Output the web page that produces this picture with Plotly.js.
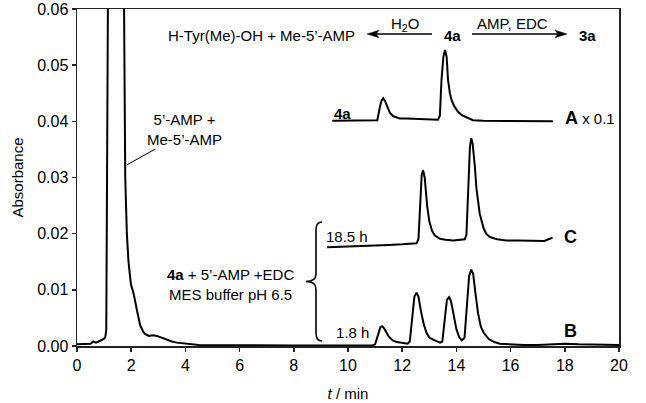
<!DOCTYPE html>
<html><head><meta charset="utf-8">
<script src="https://cdn.plot.ly/plotly-3.0.1.min.js"></script>
<style>html,body{margin:0;padding:0;background:#fff}</style>
</head><body><div id="chart" style="width:646px;height:403px"></div>
<script>
// Trace B (1.8 h), full run
const tB = [0,0.3,0.5,0.6,0.7,0.8,0.9,1.0,1.05,1.08,
  1.14,1.2,1.45,1.65,1.72,1.78,1.84,1.9,1.99,2.09,
  2.21,2.33,2.45,2.52,2.65,2.8,2.95,3.1,3.32,3.5,
  3.68,4.17,4.5,5,6,7,8,9,10,10.9,
  11.0,11.1,11.2,11.27,11.35,11.5,11.65,11.8,12.0,12.2,
  12.28,12.35,12.45,12.53,12.6,12.7,12.8,12.9,13.0,13.2,
  13.4,13.48,13.55,13.65,13.73,13.8,13.9,14.0,14.1,14.2,
  14.3,14.38,14.47,14.55,14.62,14.7,14.8,14.9,15.0,15.2,
  15.4,15.6,16.0,16.5,17,17.5,18,18.5,19,19.5,
  20];
const absB = [0.0003,0.0003,0.0004,0.0008,0.0006,0.0008,0.0011,0.0013,0.0017,0.003,
  0.06,0.12,0.2,0.12,0.06,0.03,0.02,0.015,0.011,0.0093,
  0.0064,0.0037,0.0025,0.0021,0.0018,0.0019,0.0018,0.0015,0.0011,0.0008,
  0.0006,0.0003,0.0002,0.00015,0.0001,0.0001,0.0001,0.0001,0.0001,0.0001,
  0.0003,0.0020,0.0034,0.0035,0.0030,0.0017,0.0010,0.0007,0.0005,0.0004,
  0.0008,0.0040,0.0088,0.0095,0.0088,0.0060,0.0038,0.0023,0.0015,0.0010,
  0.0006,0.0008,0.0040,0.0082,0.0087,0.0080,0.0055,0.0030,0.0016,0.0010,
  0.0015,0.0060,0.0125,0.0136,0.0128,0.0095,0.0058,0.0035,0.0024,0.0012,
  0.0007,0.0004,0.0003,0.0002,0.0002,0.0003,0.0004,0.0003,0.0003,0.0003,
  0.0002];
// Trace C (18.5 h), offset as plotted
const tC = [9.23,10,11,11.5,12.0,12.53,12.6,12.66,12.72,12.77,12.83,12.92,13.0,13.1,13.2,13.39,13.6,13.88,14.1,14.31,
  14.37,14.43,14.5,14.55,14.6,14.68,14.74,14.86,15.0,15.1,15.23,15.5,15.84,16.3,16.8,17.25,17.4,17.55];
const absC = [0.0176,0.0177,0.0179,0.0180,0.0181,0.0183,0.0190,0.0260,0.0305,0.0313,0.0300,0.0250,0.0222,0.0205,0.0197,0.0191,0.0189,0.0188,0.0189,0.0190,
  0.0198,0.0280,0.0355,0.0370,0.0360,0.0320,0.0280,0.0236,0.0210,0.0200,0.0194,0.0190,0.0188,0.0188,0.0187,0.0187,0.0190,0.0193];
// Trace A (x 0.1), offset as plotted
const tA = [9.42,10,10.5,11.08,11.18,11.24,11.3,11.37,11.45,11.55,11.67,11.91,12.16,12.6,13.0,13.32,13.39,13.45,13.52,13.58,
  13.64,13.69,13.76,13.82,13.92,14.06,14.2,14.37,14.61,15,16,17,17.56];
const absA = [0.0401,0.0401,0.0401,0.0402,0.0426,0.0437,0.0441,0.0436,0.0426,0.0415,0.0409,0.0405,0.0405,0.0404,0.0403,0.0403,0.0410,0.0474,0.0515,0.0527,
  0.0515,0.0474,0.0450,0.0438,0.0427,0.0417,0.0411,0.0407,0.0402,0.0401,0.0401,0.0400,0.0400];

const xRange = [0, 20], yRange = [0, 0.06];
const M = {l: 77, r: 27, t: 9, b: 57};
const W = 646, H = 403;
const pw = W - M.l - M.r, ph = H - M.t - M.b;
// pixel -> data helpers for annotation placement
const X = px => xRange[0] + (px - M.l) * (xRange[1] - xRange[0]) / pw;
const Y = py => yRange[0] + (H - M.b - py) * (yRange[1] - yRange[0]) / ph;

const FONT = 'Liberation Sans, Arial, Helvetica, sans-serif';
const lineStyle = {color: '#000', width: 2};
const traces = [
  {x: tB, y: absB, mode: 'lines', line: lineStyle, name: 'B'},
  {x: tC, y: absC, mode: 'lines', line: lineStyle, name: 'C'},
  {x: tA, y: absA, mode: 'lines', line: lineStyle, name: 'A'}
];

function ann(text, px, py, opts) {
  return Object.assign({text: text, x: X(px), y: Y(py), xref: 'x', yref: 'y',
    showarrow: false, xanchor: 'center', yanchor: 'middle',
    font: {family: FONT, size: 15, color: '#000'}}, opts || {});
}

const annotations = [
  ann('H-Tyr(Me)-OH + Me-5’-AMP', 357, 35, {xanchor: 'right'}),
  ann('H<sub>2</sub>O', 405, 24),
  ann('<b>4a</b>', 452, 35),
  ann('AMP, EDC', 512, 23),
  ann('<b>3a</b>', 587, 35),
  ann('5’-AMP +<br>Me-5’-AMP', 184, 129),
  ann('<b>4a</b>', 342, 113),
  ann('<span style="font-size:18px;font-weight:bold">A</span> x 0.1', 563, 118, {xanchor: 'left'}),
  ann('18.5 h', 347, 236),
  ann('<b>C</b>', 570, 237, {font: {family: FONT, size: 18, color: '#000'}}),
  ann('1.8 h', 352, 332),
  ann('<b>B</b>', 570, 331, {font: {family: FONT, size: 18, color: '#000'}}),
  ann('<b>4a</b> + 5’-AMP +EDC<br>MES buffer pH 6.5', 230, 284)
];

const P = (px, py) => X(px).toFixed(4) + ',' + Y(py).toFixed(6);
// curly brace path (pixel points converted to data)
const bracePath = 'M' + P(322,222) + ' Q' + P(316,222) + ' ' + P(316,230) +
  ' L' + P(316,274) + ' Q' + P(316,281.5) + ' ' + P(306,281.5) +
  ' Q' + P(316,281.5) + ' ' + P(316,289) + ' L' + P(316,333) +
  ' Q' + P(316,341) + ' ' + P(322,341);
// arrow heads (barbed, filled)
function head(tipPx, py, dir) {
  const b = tipPx + dir * 12, n = tipPx + dir * 9;
  return 'M' + P(tipPx, py) + ' L' + P(b, py - 3.8) + ' L' + P(n, py) + ' L' + P(b, py + 3.8) + ' Z';
}
const arrowY = 34;

const shapes = [
  {type: 'line', xref: 'x', yref: 'y', x0: X(155.3), y0: Y(149), x1: X(126.7), y1: Y(165),
   line: {color: '#000', width: 1}},
  {type: 'path', xref: 'x', yref: 'y', path: bracePath, line: {color: '#000', width: 1.6}},
  {type: 'line', xref: 'x', yref: 'y', x0: X(376), y0: Y(arrowY), x1: X(432), y1: Y(arrowY),
   line: {color: '#000', width: 1.4}},
  {type: 'path', xref: 'x', yref: 'y', path: head(367, arrowY, 1), fillcolor: '#000', line: {color: '#000', width: 0.5}},
  {type: 'line', xref: 'x', yref: 'y', x0: X(472), y0: Y(arrowY), x1: X(558), y1: Y(arrowY),
   line: {color: '#000', width: 1.4}},
  {type: 'path', xref: 'x', yref: 'y', path: head(567, arrowY, -1), fillcolor: '#000', line: {color: '#000', width: 0.5}}
];

const axisCommon = {
  showline: true, mirror: true, linecolor: '#222', linewidth: 1.5,
  ticks: 'outside', ticklen: 4, tickwidth: 1.5, tickcolor: '#222',
  showgrid: false, zeroline: false,
  tickfont: {family: FONT, size: 16, color: '#000'}
};

const layout = {
  width: W, height: H, margin: M,
  paper_bgcolor: '#fff', plot_bgcolor: '#fff', showlegend: false,
  font: {family: FONT, color: '#000'},
  xaxis: Object.assign({}, axisCommon, {range: xRange, dtick: 2, tick0: 0,
    title: {text: '<i>t</i> / min', font: {family: FONT, size: 15, color: '#000'}, standoff: 16}}),
  yaxis: Object.assign({}, axisCommon, {range: yRange, dtick: 0.01, tick0: 0, tickformat: '.2f',
    title: {text: 'Absorbance', font: {family: FONT, size: 15, color: '#000'}, standoff: 10}}),
  annotations: annotations,
  shapes: shapes
};

Plotly.newPlot('chart', traces, layout, {displayModeBar: false, staticPlot: true});
</script>
</body></html>
